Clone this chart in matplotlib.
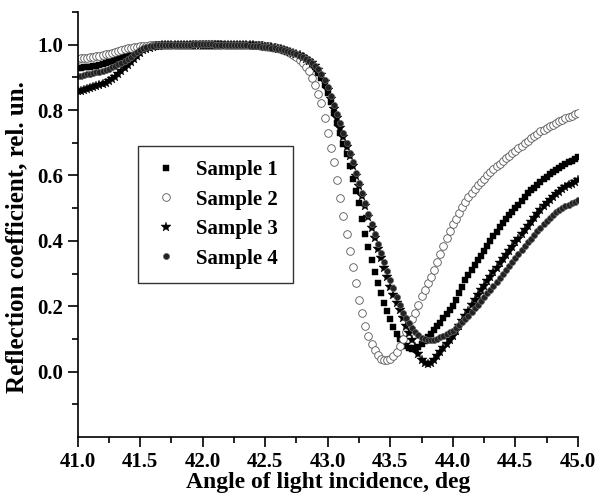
import numpy as np
import matplotlib
matplotlib.use('Agg')
import matplotlib.pyplot as plt
from matplotlib.ticker import MultipleLocator

plt.rcParams['font.family'] = ['Liberation Serif', 'DejaVu Serif']
plt.rcParams['font.weight'] = 'bold'

# angle grid of the measurement: 41.0 ... 45.0 deg, step 0.025 deg
angle_start = 41.0
angle_step = 0.025

# reflection coefficient, each row = 8 points (0.2 deg)
sample1 = [.928, .929, .930, .931, .932, .934, .936, .938,
           .940, .943, .946, .950, .954, .958, .962, .966,
           .970, .974, .978, .982, .986, .990, .993, .995,
           .997, .998, .999, .999, 1.0, 1.0, 1.0, 1.0,
           1.0, 1.0, 1.0, 1.0, 1.0, 1.001, 1.001, 1.002,
           1.002, 1.002, 1.002, 1.002, 1.001, 1.001, 1.001, 1.0,
           1.0, 1.0, 1.0, .999, .999, .999, .998, .998,
           .997, .996, .995, .994, .993, .991, .990, .988,
           .986, .984, .981, .978, .975, .972, .968, .964,
           .960, .953, .945, .936, .925, .912, .897, .877,
           .853, .823, .790, .760, .730, .697, .665, .628,
           .590, .553, .515, .468, .420, .380, .340, .305,
           .270, .240, .210, .185, .160, .138, .115, .100,
           .085, .077, .072, .070, .070, .076, .085, .095,
           .105, .116, .128, .139, .150, .163, .176, .188,
           .200, .220, .240, .260, .280, .295, .310, .325,
           .340, .355, .370, .385, .400, .414, .428, .442,
           .455, .466, .478, .489, .500, .511, .523, .534,
           .545, .554, .563, .571, .580, .588, .595, .603,
           .610, .616, .623, .629, .635, .640, .645, .650,
           .655]

sample2 = [.957, .958, .959, .960, .961, .963, .964, .966,
           .968, .970, .972, .975, .978, .981, .984, .987,
           .989, .991, .993, .994, .995, .996, .997, .998,
           .998, .999, .999, .999, 1.0, 1.0, 1.0, 1.0,
           1.0, 1.0, 1.0, 1.0, 1.0, 1.0, 1.0, 1.0,
           1.0, 1.0, 1.0, 1.0, 1.0, 1.0, 1.0, 1.0,
           1.0, 1.0, 1.0, 1.0, 1.0, 1.0, 1.0, 1.0,
           1.0, .999, .998, .998, .997, .995, .993, .992,
           .990, .986, .983, .979, .975, .968, .961, .953,
           .945, .933, .920, .898, .875, .848, .820, .775,
           .730, .685, .640, .585, .530, .475, .420, .370,
           .320, .270, .220, .178, .140, .110, .085, .065,
           .050, .040, .035, .036, .040, .048, .060, .080,
           .100, .120, .140, .160, .180, .205, .230, .250,
           .270, .290, .310, .335, .360, .385, .410, .430,
           .450, .468, .485, .503, .520, .533, .545, .558,
           .570, .580, .590, .600, .610, .619, .628, .636,
           .645, .653, .660, .668, .675, .683, .690, .698,
           .705, .713, .720, .728, .735, .740, .745, .750,
           .755, .760, .765, .770, .775, .779, .783, .787,
           .790]

sample3 = [.857, .859, .861, .863, .866, .869, .872, .876,
           .880, .884, .889, .895, .902, .910, .918, .927,
           .937, .947, .957, .966, .975, .982, .987, .991,
           .994, .996, .997, .998, .999, 1.0, 1.0, 1.0,
           1.0, 1.0, 1.0, 1.0, 1.0, 1.0, 1.0, 1.0,
           1.0, 1.0, 1.0, 1.0, 1.0, 1.0, 1.0, 1.0,
           1.0, 1.0, 1.0, 1.0, .999, .999, .999, .998,
           .998, .997, .996, .995, .994, .993, .992, .990,
           .988, .986, .984, .981, .978, .975, .971, .967,
           .962, .956, .950, .943, .935, .922, .908, .887,
           .860, .833, .804, .775, .745, .717, .688, .659,
           .630, .598, .567, .536, .505, .473, .440, .408,
           .375, .346, .317, .288, .260, .235, .210, .188,
           .165, .140, .118, .096, .075, .055, .035, .026,
           .022, .025, .035, .047, .060, .072, .085, .097,
           .110, .125, .140, .155, .170, .186, .203, .219,
           .235, .249, .263, .276, .290, .304, .318, .331,
           .345, .357, .370, .382, .395, .407, .420, .432,
           .445, .457, .470, .482, .495, .505, .515, .525,
           .535, .543, .550, .558, .565, .570, .575, .580,
           .585]

sample4 = [.903, .905, .907, .909, .911, .913, .915, .917,
           .920, .923, .926, .930, .935, .940, .945, .951,
           .957, .963, .970, .977, .984, .989, .993, .995,
           .997, .998, .999, .999, 1.0, 1.0, 1.0, 1.0,
           1.0, 1.0, 1.0, 1.0, 1.0, 1.001, 1.001, 1.001,
           1.001, 1.001, 1.001, 1.001, 1.0, 1.0, 1.0, 1.0,
           1.0, 1.0, .999, .999, .999, .998, .998, .997,
           .997, .996, .995, .994, .993, .992, .991, .989,
           .987, .985, .983, .980, .977, .974, .970, .966,
           .962, .957, .951, .944, .936, .925, .911, .892,
           .870, .843, .815, .788, .760, .730, .700, .670,
           .640, .608, .577, .546, .515, .483, .452, .421,
           .390, .362, .334, .307, .280, .255, .229, .204,
           .180, .165, .150, .135, .120, .111, .103, .099,
           .096, .096, .097, .100, .105, .110, .115, .120,
           .125, .133, .142, .151, .160, .171, .182, .194,
           .205, .216, .227, .239, .250, .262, .275, .287,
           .300, .312, .324, .336, .348, .360, .372, .384,
           .395, .406, .418, .429, .440, .450, .460, .470,
           .480, .487, .493, .499, .505, .510, .515, .520,
           .525]

labels = ['Sample 1', 'Sample 2', 'Sample 3', 'Sample 4']

angle = angle_start + angle_step * np.arange(len(sample1))

fig = plt.figure(figsize=(5.97, 4.95), dpi=100)
ax = fig.add_axes([0.130, 0.117, 0.838, 0.859])

ax.plot(angle, sample1, ls='none', marker='s', ms=4.8, mfc='black', mec='black', mew=0.3, label=labels[0])
ax.plot(angle, sample2, ls='none', marker='o', ms=5.5, mfc='white', mec='#555555', mew=0.6, label=labels[1])
ax.plot(angle, sample3, ls='none', marker='*', ms=7.0, mfc='black', mec='black', mew=0.3, label=labels[2])
ax.plot(angle, sample4, ls='none', marker='o', ms=4.4, mfc='#222222', mec='#666666', mew=0.5, label=labels[3])

ax.set_xlim(41.0, 45.0)
ax.set_ylim(-0.2, 1.1)
ax.xaxis.set_major_locator(MultipleLocator(0.5))
ax.xaxis.set_minor_locator(MultipleLocator(0.25))
ax.set_yticks([0.0, 0.2, 0.4, 0.6, 0.8, 1.0])
ax.set_yticks([-0.1, 0.1, 0.3, 0.5, 0.7, 0.9, 1.1], minor=True)
ax.xaxis.set_major_formatter(plt.FormatStrFormatter('%.1f'))
ax.yaxis.set_major_formatter(plt.FormatStrFormatter('%.1f'))

ax.spines['top'].set_visible(False)
ax.spines['right'].set_visible(False)
ax.spines['left'].set_linewidth(1.2)
ax.spines['bottom'].set_linewidth(1.2)
ax.tick_params(which='major', direction='out', length=7, width=1.2, labelsize=15)
ax.tick_params(which='minor', direction='out', length=4, width=1.2)

ax.set_xlabel('Angle of light incidence, deg', fontsize=17, fontweight='bold', labelpad=0)
ax.set_ylabel('Reflection coefficient, rel. un.', fontsize=18, fontweight='bold')
ax.yaxis.set_label_coords(-0.098, 0.47)

leg = ax.legend(loc='upper left', bbox_to_anchor=(0.121, 0.685), borderaxespad=0,
                fontsize=15, frameon=True, fancybox=False, edgecolor='black',
                labelspacing=0.45, handletextpad=0.8, borderpad=0.7, handlelength=1.3)
leg.get_frame().set_linewidth(1.0)

fig.savefig('out.png', dpi=100)
